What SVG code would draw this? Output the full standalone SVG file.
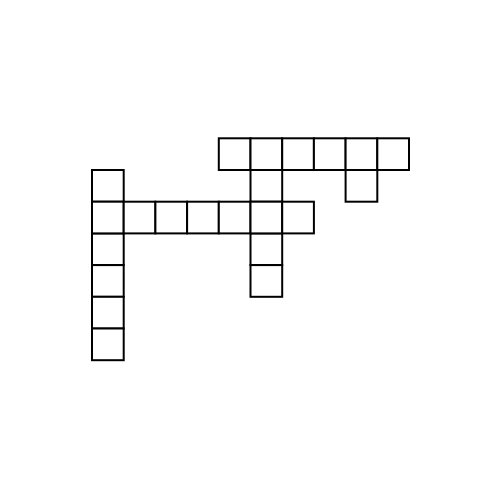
<svg xmlns="http://www.w3.org/2000/svg" width="500" height="499" viewBox="0 0 500 499">
<style>
.c{fill:#fff;stroke:#000;stroke-width:2}
</style>
<rect width="500" height="499" fill="#fff"/>
<g id="across-top">
<rect class="c" x="218.8" y="138.3" width="31.7" height="31.7"/>
<rect class="c" x="250.5" y="138.3" width="31.7" height="31.7"/>
<rect class="c" x="282.2" y="138.3" width="31.7" height="31.7"/>
<rect class="c" x="313.9" y="138.3" width="31.7" height="31.7"/>
<rect class="c" x="345.6" y="138.3" width="31.7" height="31.7"/>
<rect class="c" x="377.3" y="138.3" width="31.7" height="31.7"/>
</g>
<g id="down-right">
<rect class="c" x="345.6" y="170" width="31.7" height="31.7"/>
</g>
<g id="down-left">
<rect class="c" x="92" y="170" width="31.7" height="31.7"/>
<rect class="c" x="92" y="233.4" width="31.7" height="31.7"/>
<rect class="c" x="92" y="265.1" width="31.7" height="31.7"/>
<rect class="c" x="92" y="296.8" width="31.7" height="31.7"/>
<rect class="c" x="92" y="328.5" width="31.7" height="31.7"/>
</g>
<g id="down-middle">
<rect class="c" x="250.5" y="170" width="31.7" height="31.7"/>
<rect class="c" x="250.5" y="233.4" width="31.7" height="31.7"/>
<rect class="c" x="250.5" y="265.1" width="31.7" height="31.7"/>
</g>
<g id="across-middle">
<rect class="c" x="92" y="201.7" width="31.7" height="31.7"/>
<rect class="c" x="123.7" y="201.7" width="31.7" height="31.7"/>
<rect class="c" x="155.4" y="201.7" width="31.7" height="31.7"/>
<rect class="c" x="187.1" y="201.7" width="31.7" height="31.7"/>
<rect class="c" x="218.8" y="201.7" width="31.7" height="31.7"/>
<rect class="c" x="250.5" y="201.7" width="31.7" height="31.7"/>
<rect class="c" x="282.2" y="201.7" width="31.7" height="31.7"/>
</g>
</svg>
